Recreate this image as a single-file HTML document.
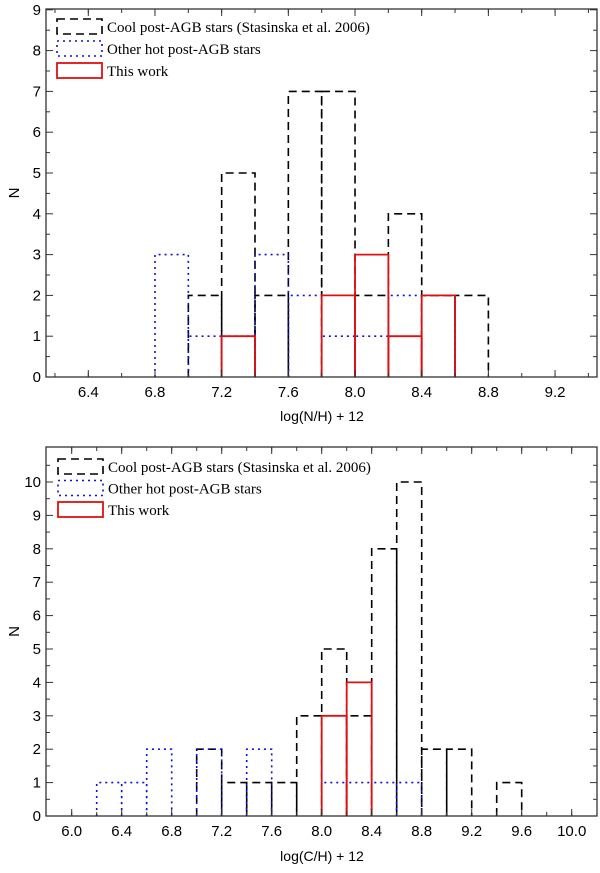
<!DOCTYPE html>
<html><head><meta charset="utf-8"><style>
body{margin:0;background:#fff;}
svg text{font-family:"Liberation Sans",sans-serif;}
.leg{font-family:"Liberation Serif",serif;font-size:15px;}
</style></head><body>
<svg id="c" width="600" height="868" xmlns="http://www.w3.org/2000/svg"></svg>
<script>
// Panel 1: log(N/H)+12
const nBins = [6.8,7.0,7.2,7.4,7.6,7.8,8.0,8.2,8.4,8.6];
const nCool = [0,2,5,2,7,7,2,4,2,2];
const nHot  = [3,1,1,3,2,1,1,2,2,0];
const nThis = [0,0,1,0,0,2,3,1,2,0];
const nXTicks = [6.4,6.8,7.2,7.6,8.0,8.4,8.8,9.2];
const nYTicks = [0,1,2,3,4,5,6,7,8,9];
// Panel 2: log(C/H)+12
const cBins = [6.2,6.4,6.6,6.8,7.0,7.2,7.4,7.6,7.8,8.0,8.2,8.4,8.6,8.8,9.0,9.2,9.4];
const cCool = [0,0,0,0,2,1,1,1,3,5,3,8,10,2,2,0,1];
const cHot  = [1,1,2,0,2,0,2,0,0,1,1,1,1,0,0,0,0];
const cThis = [0,0,0,0,0,0,0,0,0,3,4,0,0,0,0,0,0];
const cXTicks = [6.0,6.4,6.8,7.2,7.6,8.0,8.4,8.8,9.2,9.6,10.0];
const cYTicks = [0,1,2,3,4,5,6,7,8,9,10];
const BW = 0.2;

const NS="http://www.w3.org/2000/svg";
const svg=document.getElementById('c');
function mk(t,a,p){const e=document.createElementNS(NS,t);for(const k in a)e.setAttribute(k,a[k]);(p||svg).appendChild(e);return e;}

function panel(cfg){
  const g=mk('g',{});
  
  
  const L=46,R=597,T=cfg.top,B=cfg.bottom;
  const x=v=>cfg.x0px+(v-cfg.x0)*cfg.xs;
  const y=v=>B-v*cfg.ys;
  // series
  const series=[
    {d:cfg.cool,st:{stroke:'#000','stroke-width':1.6,'stroke-dasharray':'8,5'},n:'cool-bar'},
    {d:cfg.hot,st:{stroke:'#1010d0','stroke-width':1.6,'stroke-dasharray':'2,4'},n:'hot-bar'},
    {d:cfg.thisw,st:{stroke:'#e01010','stroke-width':1.8},n:'this-work-bar'}
  ];
  series.forEach(s=>{
    s.d.forEach((v,i)=>{
      if(!v)return;
      const x1=x(cfg.bins[i]),x2=x(cfg.bins[i]+BW);
      const r=mk('path',Object.assign({d:`M${x1},${y(0)}V${y(v)}H${x2}V${y(0)}`,fill:'none'},s.st),g);
      
      
    });
  });
  // frame
  const f=mk('rect',{x:L,y:T,width:R-L,height:B-T,fill:'none',stroke:'#333','stroke-width':1.3},g);
  
  
  // x ticks
  const ax=mk('g',{},g);
  
  
  for(let v=cfg.x0-2*BW;v<=cfg.xmax+1e-6;v+=BW){
    const px=x(v); if(px<L+1||px>R-1)continue;
    mk('line',{x1:px,x2:px,y1:B,y2:B-4,stroke:'#333'},ax);
    mk('line',{x1:px,x2:px,y1:T,y2:T+4,stroke:'#333'},ax);
  }
  cfg.xt.forEach(v=>{
    const px=x(v);
    mk('line',{x1:px,x2:px,y1:B,y2:B-7,stroke:'#333'},ax);
    mk('line',{x1:px,x2:px,y1:T,y2:T+7,stroke:'#333'},ax);
    const t=mk('text',{x:px,y:B+20,'text-anchor':'middle','font-size':15},ax);
    t.textContent=v.toFixed(1);
    
    
  });
  const ay=mk('g',{},g);
  
  
  cfg.yt.forEach(v=>{
    const py=y(v);
    mk('line',{x1:L,x2:L+7,y1:py,y2:py,stroke:'#333'},ay);
    mk('line',{x1:R,x2:R-7,y1:py,y2:py,stroke:'#333'},ay);
    const pm=y(v+0.5); if(pm>T+1){mk('line',{x1:L,x2:L+4,y1:pm,y2:pm,stroke:'#333'},ay);mk('line',{x1:R,x2:R-4,y1:pm,y2:pm,stroke:'#333'},ay);}
    const t=mk('text',{x:L-5,y:py+5,'text-anchor':'end','font-size':15},ay);
    t.textContent=v;
    
    
  });
  const xt=mk('text',{x:cfg.xtx,y:cfg.xty,'text-anchor':'middle','font-size':14},g);
  xt.textContent=cfg.xtitle;
  
  
  const yt=mk('text',{x:0,y:0,'text-anchor':'middle','font-size':15,transform:`translate(19,${(T+B)/2}) rotate(-90)`},g);
  yt.textContent='N';
  
  
  // legend
  const lg=mk('g',{},g);
  
  
  const ents=[['Cool post-AGB stars (Stasinska et al. 2006)',series[0].st],['Other hot post-AGB stars',series[1].st],['This work',series[2].st]];
  ents.forEach((e,i)=>{
    const yy=cfg.ly+i*cfg.lgap;
    const ge=mk('g',{},lg);
    
    
    mk('rect',Object.assign({x:cfg.lx,y:yy,width:45,height:15,fill:'none'},e[1]),ge);
    const t=mk('text',{x:cfg.lx+50,y:yy+13,class:'leg'},ge);
    t.textContent=e[0];
  });
}
panel({name:'nh-histogram',top:9,bottom:377,x0:6.4,x0px:88.3,xs:166.7,xmax:9.5,ys:40.8,
  bins:nBins,cool:nCool,hot:nHot,thisw:nThis,xt:nXTicks,yt:nYTicks,
  xtitle:'log(N/H) + 12',xtx:322,xty:421,lx:57,ly:19,lgap:22});
panel({name:'ch-histogram',top:447,bottom:816,x0:6.0,x0px:71.7,xs:125,xmax:10.3,ys:33.4,
  bins:cBins,cool:cCool,hot:cHot,thisw:cThis,xt:cXTicks,yt:cYTicks,
  xtitle:'log(C/H) + 12',xtx:322,xty:861,lx:58,ly:459,lgap:21.5});
</script>
</body></html>
